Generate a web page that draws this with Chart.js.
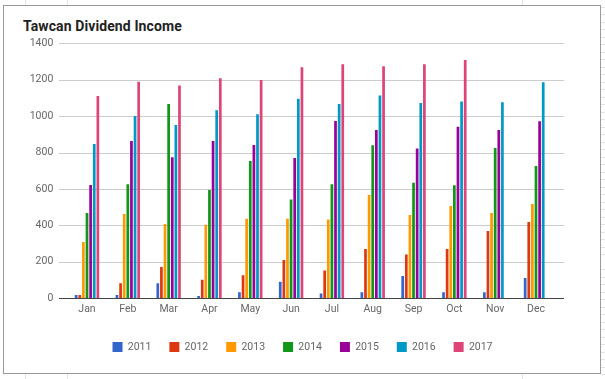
<!DOCTYPE html>
<html>
<head>
<meta charset="utf-8">
<script src="https://cdn.jsdelivr.net/npm/chart.js@4.4.1/dist/chart.umd.min.js"></script>
<style>
  html, body { margin: 0; padding: 0; background: #fff; }
  #page { position: relative; width: 605px; height: 379px; overflow: hidden; background: #fff; font-family: Roboto, "Noto Sans", Arial, sans-serif; }
  .vline { position: absolute; width: 1px; background: #e3e3e3; }
  #rstrip { position: absolute; left: 601px; top: 0; width: 4px; height: 379px;
    background: repeating-linear-gradient(to bottom, transparent 0, transparent 6.5px, #e3e3e3 6.5px, #e3e3e3 7.5px); }
  #box { position: absolute; left: 3px; top: 5px; width: 598px; height: 369px; box-sizing: border-box; border: 1px solid #9a9a9a; background: #fff; }
  #title { position: absolute; left: 23px; top: 19px; font: bold 14px Roboto, "Noto Sans", Arial, sans-serif; line-height: 14px; color: #222; white-space: nowrap; letter-spacing: 0.1px; }
  #c { position: absolute; left: 0; top: 0; }
</style>
</head>
<body>
<div id="page">
  <div class="vline" style="left:25px;top:0;height:5px"></div>
  <div class="vline" style="left:67px;top:0;height:5px"></div>
  <div class="vline" style="left:522px;top:0;height:5px"></div>
  <div class="vline" style="left:25px;top:374px;height:5px"></div>
  <div class="vline" style="left:67px;top:374px;height:5px"></div>
  <div class="vline" style="left:522px;top:374px;height:5px"></div>
  <div id="rstrip"></div>
  <div id="box"></div>
  <div id="title">Tawcan Dividend Income</div>
  <canvas id="c" width="605" height="379"></canvas>
</div>
<script>
const months = ['Jan','Feb','Mar','Apr','May','Jun','Jul','Aug','Sep','Oct','Nov','Dec'];
const years = ['2011','2012','2013','2014','2015','2016','2017'];
const v2011 = [18, 18, 82, 13, 33, 91, 27, 33, 123, 33, 33, 112];
const v2012 = [18, 82, 172, 102, 126, 210, 152, 271, 240, 271, 370, 419];
const v2013 = [309, 463, 408, 404, 437, 437, 432, 567, 457, 507, 468, 518];
const v2014 = [468, 626, 1067, 595, 754, 542, 626, 840, 635, 620, 825, 726];
const v2015 = [622, 864, 774, 864, 842, 770, 974, 924, 823, 942, 924, 972];
const v2016 = [847, 1001, 952, 1032, 1010, 1096, 1067, 1114, 1072, 1081, 1076, 1186];
const v2017 = [1111, 1189, 1169, 1208, 1199, 1268, 1285, 1274, 1285, 1308, null, null];
const yMin = 0, yMax = 1400, yStep = 200;

const seriesValues = [v2011, v2012, v2013, v2014, v2015, v2016, v2017];
const colors = ['#3366cc','#dc3912','#ff9900','#109618','#990099','#0099c6','#dd4477'];

const datasets = years.map((y, i) => ({
  label: y,
  data: seriesValues[i],
  backgroundColor: colors[i],
  borderWidth: 0,
  categoryPercentage: 0.62,
  barPercentage: 0.75
}));

const GRID_EXT_L = 7.6, GRID_EXT_R = 7.6;
const hGrid = {
  id: 'hGrid',
  beforeDatasetsDraw(chart) {
    const {ctx, chartArea, scales} = chart;
    const y = scales.y;
    ctx.save();
    ctx.lineWidth = 1;
    ctx.strokeStyle = '#cccccc';
    y.ticks.forEach(t => {
      if (t.value === 0) return;
      const py = Math.round(y.getPixelForValue(t.value)) + 0.5;
      ctx.beginPath();
      ctx.moveTo(chartArea.left - GRID_EXT_L, py);
      ctx.lineTo(chartArea.right + GRID_EXT_R, py);
      ctx.stroke();
    });
    ctx.restore();
  },
  afterDatasetsDraw(chart) {
    const {ctx, chartArea, scales} = chart;
    const y = scales.y;
    const py = Math.round(y.getPixelForValue(0)) + 0.5;
    ctx.save();
    ctx.lineWidth = 1;
    ctx.strokeStyle = '#444444';
    ctx.beginPath();
    ctx.moveTo(chartArea.left - GRID_EXT_L, py);
    ctx.lineTo(chartArea.right + GRID_EXT_R, py);
    ctx.stroke();
    ctx.restore();
  }
};

const tickFont = { family: 'Roboto', size: 10.5 };
new Chart(document.getElementById('c'), {
  type: 'bar',
  data: { labels: months, datasets },
  options: {
    responsive: false,
    animation: false,
    events: [],
    layout: { padding: { top: 43.3, bottom: 16.75, left: 0, right: 0 } },
    plugins: {
      title: { display: false },
      tooltip: { enabled: false },
      legend: {
        position: 'bottom',
        align: 'center',
        labels: { boxWidth: 10, boxHeight: 10, padding: 18, color: '#666', font: tickFont }
      }
    },
    scales: {
      x: {
        grid: { display: false, drawTicks: false },
        border: { display: false },
        ticks: { color: '#666', font: tickFont, padding: 4.4, maxRotation: 0 },
        afterFit: s => { s.height = 25.45; }
      },
      y: {
        min: yMin, max: yMax,
        grid: { display: false, drawTicks: false },
        border: { display: false },
        ticks: { stepSize: yStep, color: '#666', font: tickFont, padding: 13.3, format: { useGrouping: false } },
        afterFit: s => { s.width = 66.6; }
      },
      yR: {
        position: 'right',
        display: true,
        grid: { display: false, drawTicks: false },
        border: { display: false },
        ticks: { display: false },
        afterFit: s => { s.width = 48.6; }
      }
    }
  },
  plugins: [hGrid]
});
</script>
</body>
</html>
